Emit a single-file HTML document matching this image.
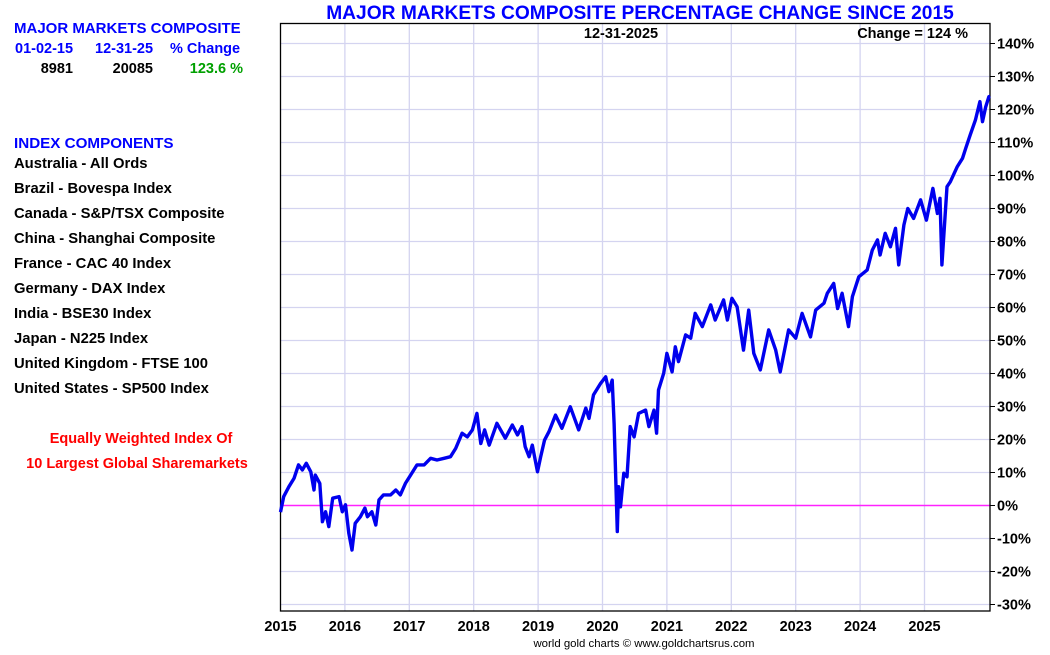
<!DOCTYPE html>
<html><head><meta charset="utf-8">
<style>
body{margin:0;background:#fff;width:1050px;height:650px;overflow:hidden;font-family:"Liberation Sans",Arial,sans-serif;}
svg text{font-family:"Liberation Sans",Arial,sans-serif;font-weight:bold;}
</style></head>
<body>
<svg id="chart" width="1050" height="650">
<g id="grid"></g>
<g id="axes"></g>
<g id="series"></g>
<text x="640" y="19" text-anchor="middle" font-size="19.2" fill="#0000ff">MAJOR MARKETS COMPOSITE PERCENTAGE CHANGE SINCE 2015</text>
<text x="621" y="38" text-anchor="middle" font-size="14.5" fill="#000">12-31-2025</text>
<text x="968" y="38" text-anchor="end" font-size="14.5" fill="#000">Change = 124 %</text>
<g font-size="14.8">
<text x="14" y="33" fill="#0000ff" font-size="15">MAJOR MARKETS COMPOSITE</text>
<text x="15" y="53" fill="#0000ff" font-size="14.5">01-02-15</text>
<text x="95" y="53" fill="#0000ff" font-size="14.5">12-31-25</text>
<text x="170" y="53" fill="#0000ff" font-size="14.5">% Change</text>
<text x="73" y="73" text-anchor="end" fill="#000" font-size="14.5">8981</text>
<text x="153" y="73" text-anchor="end" fill="#000" font-size="14.5">20085</text>
<text x="243" y="73" text-anchor="end" fill="#00a000" font-size="14.5">123.6 %</text>
<text x="14" y="148" fill="#0000ff" font-size="15.2">INDEX COMPONENTS</text>
<text x="14" y="168" fill="#000">Australia - All Ords</text>
<text x="14" y="193" fill="#000">Brazil - Bovespa Index</text>
<text x="14" y="218" fill="#000">Canada - S&amp;P/TSX Composite</text>
<text x="14" y="243" fill="#000">China - Shanghai Composite</text>
<text x="14" y="268" fill="#000">France - CAC 40 Index</text>
<text x="14" y="293" fill="#000">Germany - DAX Index</text>
<text x="14" y="318" fill="#000">India - BSE30 Index</text>
<text x="14" y="343" fill="#000">Japan - N225 Index</text>
<text x="14" y="368" fill="#000">United Kingdom - FTSE 100</text>
<text x="14" y="393" fill="#000">United States - SP500 Index</text>
<text x="141" y="443" text-anchor="middle" fill="#ff0000" font-size="14.5">Equally Weighted Index Of</text>
<text x="137" y="468" text-anchor="middle" fill="#ff0000" font-size="14.5">10 Largest Global Sharemarkets</text>
</g>
<text x="644" y="647" text-anchor="middle" font-size="11.4" fill="#000" style="font-weight:normal">world gold charts © www.goldchartsrus.com</text>
</svg>
<script>
const yearTicks=[2015,2016,2017,2018,2019,2020,2021,2022,2023,2024,2025];
const pctTicks=[140,130,120,110,100,90,80,70,60,50,40,30,20,10,0,-10,-20,-30];
const dates=[0.00,0.05,0.13,0.21,0.28,0.34,0.40,0.47,0.52,0.54,0.61,0.65,0.70,0.75,0.81,0.91,0.96,1.01,1.06,1.11,1.16,1.24,1.31,1.35,1.42,1.48,1.53,1.60,1.71,1.79,1.86,1.94,2.02,2.12,2.23,2.33,2.43,2.54,2.64,2.72,2.82,2.90,2.98,3.05,3.11,3.17,3.24,3.36,3.49,3.60,3.68,3.75,3.80,3.86,3.91,3.99,4.04,4.10,4.17,4.27,4.37,4.50,4.63,4.74,4.79,4.86,4.97,5.05,5.10,5.15,5.18,5.20,5.23,5.25,5.28,5.33,5.38,5.43,5.49,5.56,5.67,5.72,5.80,5.84,5.87,5.95,6.00,6.08,6.13,6.18,6.29,6.37,6.44,6.55,6.68,6.75,6.88,6.94,7.01,7.09,7.19,7.27,7.35,7.45,7.58,7.69,7.76,7.89,8.00,8.10,8.23,8.31,8.44,8.49,8.59,8.65,8.72,8.82,8.88,8.98,9.11,9.19,9.27,9.31,9.39,9.47,9.55,9.60,9.68,9.74,9.83,9.94,10.03,10.13,10.20,10.24,10.27,10.35,10.40,10.51,10.59,10.64,10.71,10.79,10.86,10.90,10.95,11.00,11.02];
const values=[-2,2.7,5.7,8.2,12.3,10.8,12.8,10.2,4.7,9.2,6.7,-4.9,-1.9,-6.4,2.2,2.7,-1.9,0.2,-8.4,-13.5,-5.4,-3.4,-0.8,-3.4,-1.9,-5.9,1.7,3.2,3.2,4.7,3.2,6.7,9.2,12.3,12.3,14.3,13.8,14.3,14.8,17.3,21.9,20.8,22.9,27.9,18.8,22.9,18.3,24.9,20.4,24.4,21.4,23.9,17.8,14.8,18.3,10.2,14.8,19.8,22.4,27.4,23.4,29.9,22.9,29.5,26.4,33.5,37.0,39.0,34.5,38.0,24.9,11.8,-7.9,5.7,-0.4,9.8,8.7,23.9,20.8,27.9,28.9,23.9,28.9,21.9,35.0,40.1,46.1,40.5,48.1,43.6,51.7,50.7,58.2,54.2,60.8,56.2,62.3,56.2,62.8,60.2,47.1,59.2,46.1,41.1,53.2,47.1,40.5,53.2,50.7,58.2,51.1,59.2,61.3,64.3,67.3,59.7,64.3,54.2,63.3,69.3,71.4,77.4,80.5,75.9,82.5,78.4,84.0,72.9,85.0,90.0,87.0,92.6,86.5,96.1,88.5,93.1,72.9,96.6,98.1,102.7,105.2,108.2,112.3,116.8,122.4,116.3,120.8,123.9,124];
const L=280.5,R=990,T=23.5,B=611;
const xS=y=>L+(y-2015)*64.4;
const yS=p=>505.5-p*3.3;
const NS='http://www.w3.org/2000/svg';
function mk(tag,attrs,parent){const e=document.createElementNS(NS,tag);for(const k in attrs)e.setAttribute(k,attrs[k]);parent.appendChild(e);return e;}
const grid=document.getElementById('grid'),axes=document.getElementById('axes'),series=document.getElementById('series');
pctTicks.forEach(p=>{const y=yS(p);
 if(p!==0){const g=mk('line',{x1:L,x2:R,y1:y,y2:y,stroke:'#d4d4f0','stroke-width':1.3},grid);
 
 }
 const tk=mk('line',{x1:R,x2:R+5,y1:y,y2:y,stroke:'#000','stroke-width':1},axes);
 
 
 const t=mk('text',{x:R+7,y:y+5,'font-size':14.5,fill:'#000'},axes);t.textContent=p+'%';
 
 
});
yearTicks.forEach(yr=>{const x=xS(yr);
 if(yr>2015){const g=mk('line',{x1:x,x2:x,y1:T,y2:B,stroke:'#d4d4f0','stroke-width':1.3},grid);
 
 }
 const t=mk('text',{x:x,y:631,'font-size':14.5,'text-anchor':'middle',fill:'#000'},axes);t.textContent=yr;
 
 
});
const zl=mk('line',{x1:L,x2:R,y1:yS(0),y2:yS(0),stroke:'#ff22ff','stroke-width':1.4},grid);


const fr=mk('rect',{x:L,y:T,width:R-L,height:B-T,fill:'none',stroke:'#000','stroke-width':1.3},axes);


const pts=dates.map((d,i)=>xS(2015+d).toFixed(1)+','+yS(values[i]).toFixed(1)).join(' ');
const pl=mk('polyline',{points:pts,fill:'none',stroke:'#0000ee','stroke-width':3.4,'stroke-linejoin':'round'},series);


</script>
</body></html>
